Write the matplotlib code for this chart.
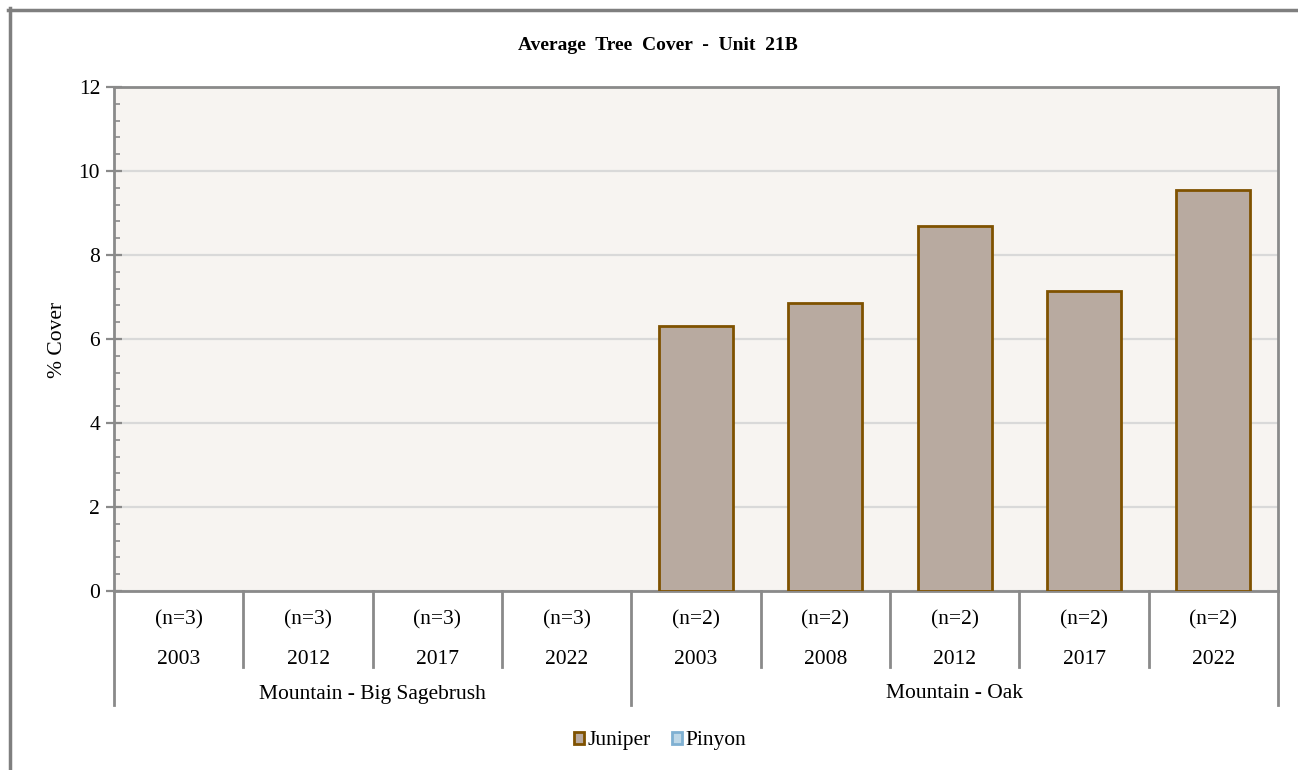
import matplotlib
matplotlib.use("Agg")
import matplotlib.pyplot as plt
from matplotlib.patches import Patch
from matplotlib.lines import Line2D
import matplotlib.transforms as mtransforms

plt.rcParams['font.family'] = ['Liberation Serif', 'DejaVu Serif']

# Data
years = ["2003", "2012", "2017", "2022", "2003", "2008", "2012", "2017", "2022"]
sample_sizes = ["(n=3)", "(n=3)", "(n=3)", "(n=3)", "(n=2)", "(n=2)", "(n=2)", "(n=2)", "(n=2)"]
groups = ["Mountain - Big Sagebrush", "Mountain - Oak"]
group_sizes = [4, 5]
juniper = [0, 0, 0, 0, 6.31, 6.86, 8.69, 7.14, 9.55]
pinyon = [0, 0, 0, 0, 0, 0, 0, 0, 0]

FS = 15.5
W, H = 1298, 770
fig = plt.figure(figsize=(W / 100, H / 100), dpi=100)
fig.patch.set_facecolor("white")

# outer chart frame (left/top visible)
frame_col = "#7f7f7f"
fig.add_artist(Line2D([9.5 / W, 9.5 / W], [0, 1 - 8 / H], transform=fig.transFigure,
                      color=frame_col, lw=2.5))
fig.add_artist(Line2D([8 / W, 1], [1 - 9.5 / H, 1 - 9.5 / H], transform=fig.transFigure,
                      color=frame_col, lw=2.5))

left, right, top, bottom = 114, 1278, 87, 591
ax = fig.add_axes([left / W, 1 - bottom / H, (right - left) / W, (bottom - top) / H])
ax.set_facecolor("#f7f4f1")

x = list(range(len(years)))
edge = ["#7f5200" if v > 0 else "none" for v in juniper]
ax.bar(x, juniper, width=0.57, color="#b8aaa0", edgecolor=edge, linewidth=2, zorder=3)

ax.set_xlim(-0.5, len(years) - 0.5)
ax.set_ylim(0, 12)
ax.set_yticks(range(0, 13, 2))
ax.set_yticks([i * 0.4 for i in range(31)], minor=True)
ax.yaxis.grid(True, color="#d9d9d9", lw=1.6, zorder=0)
ax.set_xticks([])

for s in ax.spines.values():
    s.set_color("#8a8a8a")
    s.set_linewidth(2)

ax.tick_params(axis="y", which="major", direction="inout", length=12, width=1.6,
               color="#8a8a8a", labelsize=FS, pad=4)
ax.tick_params(axis="y", which="minor", direction="in", length=4, width=1.2, color="#8a8a8a")

ph = bottom - top
pw = right - left
def yf(py):
    return (bottom - py) / ph

ax.text((57 - left) / pw, yf(340), "% Cover", transform=ax.transAxes, rotation=90,
        ha="center", va="center", fontsize=FS)

fig.text(658 / W, 1 - 46 / H, "Average  Tree  Cover  -  Unit  21B", ha="center", va="center",
         fontsize=14, fontweight="bold")

# multi-level category axis
trans = mtransforms.blended_transform_factory(ax.transData, ax.transAxes)
outer = [-0.5]
acc = -0.5
for g in group_sizes:
    acc += g
    outer.append(acc)
for b in [i - 0.5 for i in range(len(years) + 1)]:
    y_end = yf(705) if b in outer else yf(667)
    ax.add_artist(Line2D([b, b], [0, y_end], transform=trans, color="#8a8a8a",
                         lw=2, clip_on=False))

for i in x:
    ax.text(i, yf(620), sample_sizes[i], transform=trans, ha="center", va="center", fontsize=FS)
    ax.text(i, yf(659), years[i], transform=trans, ha="center", va="center", fontsize=FS)

for gi, g in enumerate(groups):
    c = (outer[gi] + outer[gi + 1]) / 2
    ax.text(c, yf(694), g, transform=trans, ha="center", va="center", fontsize=FS)

handles = [Patch(facecolor="#b8aaa0", edgecolor="#7f5200", lw=2, label="Juniper"),
           Patch(facecolor="#bdd7e7", edgecolor="#7fb0d2", lw=2, label="Pinyon")]
fig.legend(handles=handles, loc="center", bbox_to_anchor=(660 / W, 1 - 741 / H), ncol=2,
           frameon=False, fontsize=FS, handlelength=0.48, handleheight=0.48,
           handletextpad=0.15, columnspacing=1.0)

fig.savefig("out.png", dpi=100)
